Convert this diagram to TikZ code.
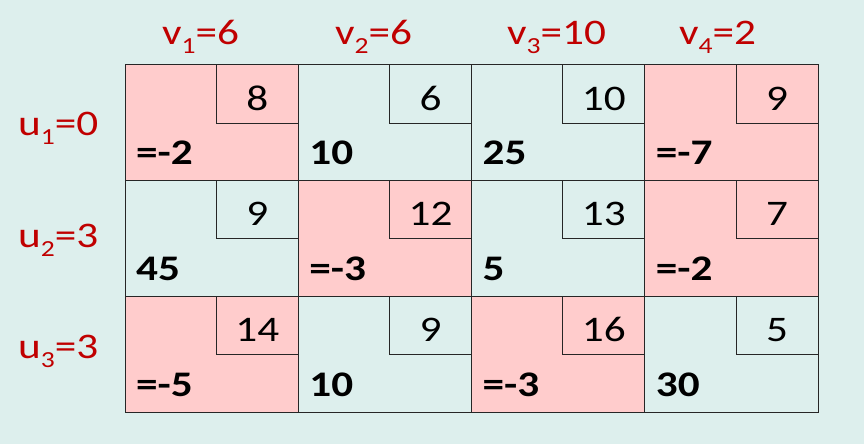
\documentclass[tikz,border=0pt]{standalone}
\usepackage{fontspec}
\setmainfont{Carlito}[FakeStretch=1.2]
\usetikzlibrary{positioning}
\definecolor{bgcol}{HTML}{DDEFED}
\definecolor{pinkcol}{HTML}{FFCCCC}
\definecolor{redcol}{HTML}{C00000}
\newcommand{\subidx}[1]{\raisebox{-9pt}{\fontsize{23}{23}\selectfont #1}}
\tikzstyle{cell} = [rectangle, 
			draw=black!85, 
			line width=1pt, 
			inner sep=0pt, 
			outer sep=0pt, 
			minimum width=173.25pt, 
			minimum height=115.67pt]
\tikzstyle{pcell} = [cell, 
			fill=pinkcol]
\tikzstyle{cost} = [rectangle, 
			draw=black!85, 
			line width=1pt, 
			inner sep=0pt, 
			outer sep=0pt, 
			anchor=north east, 
			minimum width=82pt, 
			minimum height=58pt, 
			text height=32pt, 
			text depth=0pt, 
			font=\fontsize{36}{36}\selectfont]
\tikzstyle{amount} = [anchor=base west, 
			inner sep=0pt, 
			font=\fontsize{36}{36}\selectfont\bfseries]
\tikzstyle{potential} = [anchor=base west, 
			inner sep=0pt, 
			text=redcol, 
			font=\fontsize{36}{36}\selectfont]
\begin{document}
\begin{tikzpicture}
	\fill [bgcol] (0,0) rectangle (864pt,-444pt);
	% cells
	\node [pcell, anchor=north west] (c11) at (125pt,-65pt) {};
	\node [cell, right=0pt of c11] (c12) {};
	\node [cell, right=0pt of c12] (c13) {};
	\node [pcell, right=0pt of c13] (c14) {};
	\node [cell, below=0pt of c11] (c21) {};
	\node [pcell, right=0pt of c21] (c22) {};
	\node [cell, right=0pt of c22] (c23) {};
	\node [pcell, right=0pt of c23] (c24) {};
	\node [pcell, below=0pt of c21] (c31) {};
	\node [cell, right=0pt of c31] (c32) {};
	\node [pcell, right=0pt of c32] (c33) {};
	\node [cell, right=0pt of c33] (c34) {};
	% costs
	\node [cost] (k11) at (c11.north east) {8};
	\node [cost] (k12) at (c12.north east) {6};
	\node [cost] (k13) at (c13.north east) {10};
	\node [cost] (k14) at (c14.north east) {9};
	\node [cost] (k21) at (c21.north east) {9};
	\node [cost] (k22) at (c22.north east) {12};
	\node [cost] (k23) at (c23.north east) {13};
	\node [cost] (k24) at (c24.north east) {7};
	\node [cost] (k31) at (c31.north east) {14};
	\node [cost] (k32) at (c32.north east) {9};
	\node [cost] (k33) at (c33.north east) {16};
	\node [cost] (k34) at (c34.north east) {5};
	% amounts and deltas
	\node [amount] (a11) at ([shift={(11pt,16pt)}]c11.south west) {=-2};
	\node [amount] (a12) at ([shift={(11pt,16pt)}]c12.south west) {10};
	\node [amount] (a13) at ([shift={(11pt,16pt)}]c13.south west) {25};
	\node [amount] (a14) at ([shift={(11pt,16pt)}]c14.south west) {=-7};
	\node [amount] (a21) at ([shift={(11pt,16pt)}]c21.south west) {45};
	\node [amount] (a22) at ([shift={(11pt,16pt)}]c22.south west) {=-3};
	\node [amount] (a23) at ([shift={(11pt,16pt)}]c23.south west) {5};
	\node [amount] (a24) at ([shift={(11pt,16pt)}]c24.south west) {=-2};
	\node [amount] (a31) at ([shift={(11pt,16pt)}]c31.south west) {=-5};
	\node [amount] (a32) at ([shift={(11pt,16pt)}]c32.south west) {10};
	\node [amount] (a33) at ([shift={(11pt,16pt)}]c33.south west) {=-3};
	\node [amount] (a34) at ([shift={(11pt,16pt)}]c34.south west) {30};
	% potentials
	\node [potential] (v1) at (162pt,-45pt) {v\subidx{1}=6};
	\node [potential] (v2) at (335pt,-45pt) {v\subidx{2}=6};
	\node [potential] (v3) at (507pt,-45pt) {v\subidx{3}=10};
	\node [potential] (v4) at (679pt,-45pt) {v\subidx{4}=2};
	\node [potential] (u1) at (18pt,-135pt) {u\subidx{1}=0};
	\node [potential] (u2) at (18pt,-247pt) {u\subidx{2}=3};
	\node [potential] (u3) at (18pt,-358pt) {u\subidx{3}=3};
\end{tikzpicture}
\end{document}
